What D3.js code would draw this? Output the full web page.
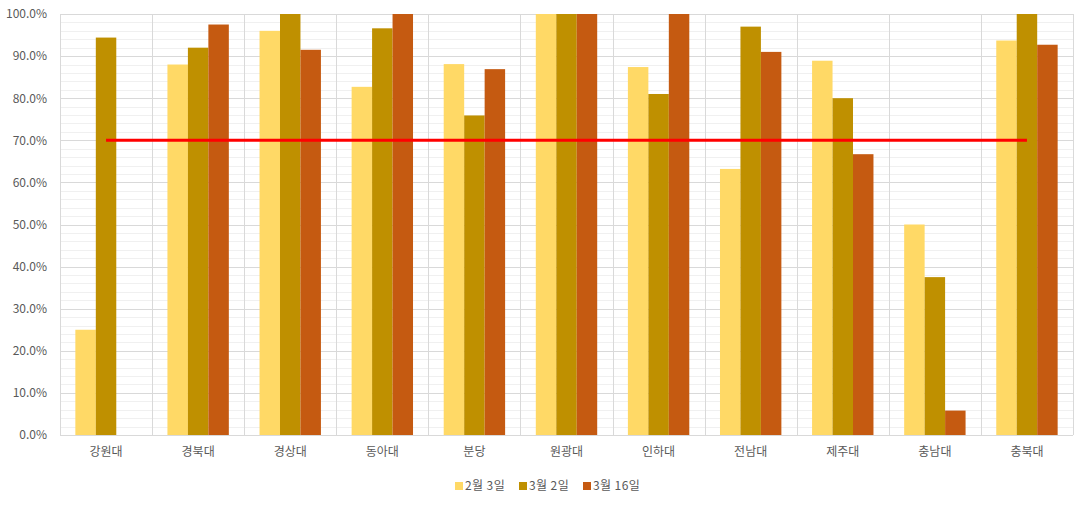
<!DOCTYPE html>
<html>
<head>
<meta charset="utf-8">
<script src="https://d3js.org/d3.v7.min.js"></script>
<style>
    body { margin: 0; background: #fff; }
    text { font-family: "Noto Sans CJK KR", "Noto Sans", sans-serif; fill: #595959; }
    .axis path, .axis line { display: none; }
    .grid-major { stroke: #d9d9d9; stroke-width: 1px; }
    .grid-minor { stroke: #f0f0f0; stroke-width: 1px; }
    .grid-vert { stroke: #d9d9d9; stroke-width: 1px; }
</style>
</head>
<body>
<script>
    var width = 1089,
        height = 506;

    var categories = ["강원대", "경북대", "경상대", "동아대", "분당", "원광대", "인하대", "전남대", "제주대", "충남대", "충북대"];
    var seriesNames = ["2월 3일", "3월 2일", "3월 16일"];
    var colors = ["#ffd966", "#bf9000", "#c55a11"];

    var feb3 = [25.0, 88.0, 96.0, 82.7, 88.1, 100, 87.4, 63.2, 88.9, 50.0, 93.7];
    var mar2 = [94.4, 92.0, 100, 96.6, 75.9, 100, 81.0, 97.0, 80.0, 37.5, 100];
    var mar16 = [null, 97.5, 91.5, 100, 86.9, 100, 100, 91.0, 66.7, 5.8, 92.7];
    var target = 70;

    var yTicks = d3.range(0, 101, 10);
    var yMinor = d3.range(0, 101, 2);

    var seriesValues = [feb3, mar2, mar16];

    var margin = { top: 14, right: 16, bottom: 71, left: 60 };
    var plotW = width - margin.left - margin.right,
        plotH = height - margin.top - margin.bottom;

    var svg = d3.select("body").append("svg")
        .attr("width", width)
        .attr("height", height);

    var g = svg.append("g")
        .attr("transform", "translate(" + margin.left + "," + margin.top + ")");

    var x = d3.scaleBand()
        .domain(categories)
        .range([0, plotW]);

    // gap width 150% like the original
    var barW = x.bandwidth() / 4.5;

    var xSub = d3.scaleBand()
        .domain(seriesNames)
        .range([x.bandwidth() / 2 - 1.5 * barW, x.bandwidth() / 2 + 1.5 * barW]);

    var y = d3.scaleLinear()
        .domain([0, 100])
        .range([plotH, 0]);

    // minor gridlines
    g.append("g")
        .selectAll("line")
        .data(yMinor.filter(function(d) { return d % 10 !== 0; }))
        .enter().append("line")
        .attr("class", "grid-minor")
        .attr("x1", 0)
        .attr("x2", plotW)
        .attr("y1", function(d) { return Math.round(y(d)) + 0.5; })
        .attr("y2", function(d) { return Math.round(y(d)) + 0.5; });

    // major gridlines
    g.append("g")
        .selectAll("line")
        .data(yTicks)
        .enter().append("line")
        .attr("class", "grid-major")
        .attr("x1", 0)
        .attr("x2", plotW)
        .attr("y1", function(d) { return Math.round(y(d)) + 0.5; })
        .attr("y2", function(d) { return Math.round(y(d)) + 0.5; });

    // vertical category boundaries
    var bounds = categories.map(function(c) { return x(c); }).concat([plotW]);
    g.append("g")
        .selectAll("line")
        .data(bounds)
        .enter().append("line")
        .attr("class", "grid-vert")
        .attr("x1", function(d) { return Math.round(d) + 0.5; })
        .attr("x2", function(d) { return Math.round(d) + 0.5; })
        .attr("y1", 0)
        .attr("y2", plotH);

    // bars
    var groups = g.append("g")
        .selectAll("g")
        .data(seriesNames)
        .enter().append("g")
        .attr("fill", function(d, i) { return colors[i]; });

    groups.selectAll("rect")
        .data(function(s, i) {
            return categories.map(function(c, j) {
                return { cat: c, series: s, value: seriesValues[i][j] };
            }).filter(function(d) { return d.value != null; });
        })
        .enter().append("rect")
        .attr("x", function(d) { return x(d.cat) + xSub(d.series); })
        .attr("width", xSub.bandwidth())
        .attr("y", function(d) { return y(d.value); })
        .attr("height", function(d) { return plotH - y(d.value); });

    // target line
    var line = d3.line()
        .x(function(d) { return x(d) + x.bandwidth() / 2; })
        .y(function() { return y(target); });

    g.append("path")
        .datum(categories)
        .attr("d", line)
        .attr("fill", "none")
        .attr("stroke", "#ff0000")
        .attr("stroke-width", 3);

    // axes
    g.append("g")
        .attr("class", "axis")
        .call(d3.axisLeft(y)
            .tickValues(yTicks)
            .tickSize(0)
            .tickPadding(13)
            .tickFormat(function(d) { return d.toFixed(1) + "%"; }))
        .selectAll("text")
        .style("font-size", "12px");

    g.append("g")
        .attr("class", "axis")
        .attr("transform", "translate(0," + plotH + ")")
        .call(d3.axisBottom(x).tickSize(0).tickPadding(12))
        .selectAll("text")
        .style("font-size", "12px");

    // legend
    var legend = svg.append("g")
        .attr("transform", "translate(455,486)");

    var legendX = [0, 64, 128];
    var items = legend.selectAll("g")
        .data(seriesNames)
        .enter().append("g")
        .attr("transform", function(d, i) { return "translate(" + legendX[i] + ",0)"; });

    items.append("rect")
        .attr("x", 0)
        .attr("y", -4)
        .attr("width", 8)
        .attr("height", 8)
        .attr("fill", function(d, i) { return colors[i]; });

    items.append("text")
        .attr("x", 10)
        .attr("dy", "0.35em")
        .style("font-size", "12px")
        .style("letter-spacing", "0.4px")
        .text(function(d) { return d; });
</script>
</body>
</html>
